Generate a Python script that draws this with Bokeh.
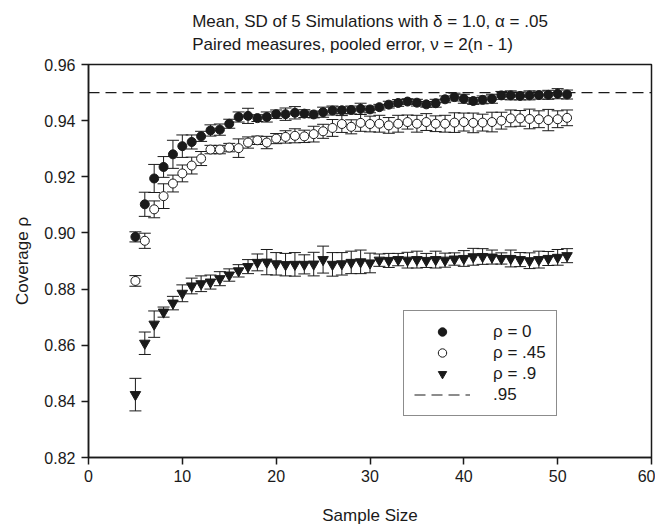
from bokeh.plotting import figure
from bokeh.models import (ColumnDataSource, Whisker, TeeHead, Title, Legend, LegendItem,
                          Range1d, FixedTicker, NumeralTickFormatter)
from bokeh.embed import file_html
from bokeh.resources import INLINE

# ---------------- data ----------------
sample_size = list(range(5, 52))

rho0_mean = [0.8986, 0.9102, 0.9194, 0.9235, 0.9280, 0.9309, 0.9324, 0.9344, 0.9365, 0.9368,
             0.9389, 0.9413, 0.9417, 0.9409, 0.9413, 0.9423, 0.9423, 0.9428, 0.9425, 0.9422,
             0.9430, 0.9436, 0.9437, 0.9438, 0.9442, 0.9440, 0.9448, 0.9457, 0.9463, 0.9468,
             0.9464, 0.9458, 0.9462, 0.9476, 0.9484, 0.9478, 0.9470, 0.9474, 0.9478, 0.9490,
             0.9490, 0.9488, 0.9490, 0.9491, 0.9492, 0.9496, 0.9493]
rho0_sd = [0.0018, 0.0043, 0.0050, 0.0037, 0.0050, 0.0040, 0.0025, 0.0018, 0.0020, 0.0020,
           0.0016, 0.0018, 0.0027, 0.0012, 0.0018, 0.0015, 0.0022, 0.0022, 0.0014, 0.0012,
           0.0018, 0.0016, 0.0012, 0.0014, 0.0020, 0.0012, 0.0010, 0.0012, 0.0012, 0.0010,
           0.0012, 0.0010, 0.0014, 0.0012, 0.0014, 0.0016, 0.0012, 0.0014, 0.0016, 0.0014,
           0.0016, 0.0014, 0.0016, 0.0014, 0.0016, 0.0018, 0.0016]

rho45_mean = [0.8829, 0.8972, 0.9084, 0.9131, 0.9176, 0.9212, 0.9240, 0.9265, 0.9297, 0.9297,
              0.9304, 0.9302, 0.9322, 0.9330, 0.9322, 0.9336, 0.9342, 0.9346, 0.9344, 0.9352,
              0.9362, 0.9374, 0.9388, 0.9378, 0.9392, 0.9388, 0.9389, 0.9383, 0.9389, 0.9395,
              0.9389, 0.9395, 0.9389, 0.9389, 0.9393, 0.9395, 0.9392, 0.9393, 0.9395, 0.9400,
              0.9408, 0.9408, 0.9406, 0.9405, 0.9402, 0.9405, 0.9410]
rho45_sd = [0.0019, 0.0027, 0.0030, 0.0044, 0.0030, 0.0030, 0.0030, 0.0025, 0.0015, 0.0015,
            0.0015, 0.0033, 0.0020, 0.0015, 0.0022, 0.0018, 0.0022, 0.0025, 0.0022, 0.0028,
            0.0025, 0.0030, 0.0030, 0.0025, 0.0030, 0.0028, 0.0030, 0.0028, 0.0030, 0.0025,
            0.0030, 0.0030, 0.0028, 0.0030, 0.0035, 0.0032, 0.0035, 0.0030, 0.0035, 0.0030,
            0.0030, 0.0028, 0.0035, 0.0030, 0.0038, 0.0030, 0.0028]

rho90_mean = [0.8424, 0.8607, 0.8675, 0.8718, 0.8750, 0.8785, 0.8811, 0.8819, 0.8825, 0.8837,
              0.8850, 0.8865, 0.8880, 0.8895, 0.8896, 0.8890, 0.8887, 0.8888, 0.8888, 0.8889,
              0.8905, 0.8888, 0.8890, 0.8895, 0.8897, 0.8893, 0.8903, 0.8902, 0.8905, 0.8903,
              0.8905, 0.8902, 0.8905, 0.8903, 0.8907, 0.8909, 0.8915, 0.8916, 0.8914, 0.8909,
              0.8909, 0.8905, 0.8901, 0.8905, 0.8909, 0.8913, 0.8919]
rho90_sd = [0.0058, 0.0040, 0.0047, 0.0018, 0.0024, 0.0030, 0.0028, 0.0028, 0.0025, 0.0025,
            0.0022, 0.0022, 0.0025, 0.0030, 0.0045, 0.0040, 0.0040, 0.0042, 0.0034, 0.0042,
            0.0048, 0.0042, 0.0040, 0.0040, 0.0042, 0.0035, 0.0022, 0.0025, 0.0022, 0.0028,
            0.0030, 0.0025, 0.0030, 0.0025, 0.0022, 0.0028, 0.0030, 0.0028, 0.0025, 0.0020,
            0.0030, 0.0025, 0.0028, 0.0030, 0.0025, 0.0028, 0.0025]

reference_level = 0.95

series_labels = ["ρ = 0", "ρ = .45", "ρ = .9"]
reference_label = ".95"

x_ticks = [0, 10, 20, 30, 40, 50, 60]
y_ticks = [0.82, 0.84, 0.86, 0.88, 0.90, 0.92, 0.94, 0.96]

title_line1 = "Mean, SD of 5 Simulations with δ = 1.0, α = .05"
title_line2 = "Paired measures, pooled error, ν = 2(n - 1)"
x_label = "Sample Size"
y_label = "Coverage ρ"

# ---------------- figure ----------------
FONT = "Liberation Sans"
INK = "#1a1a1a"

p = figure(width=655, height=527, output_backend="svg", toolbar_location=None,
           x_range=Range1d(x_ticks[0], x_ticks[-1]), y_range=Range1d(y_ticks[0], y_ticks[-1]),
           min_border_left=88, min_border_right=4, min_border_top=64, min_border_bottom=69)
p.background_fill_color = "white"
p.border_fill_color = "white"
p.xgrid.visible = False
p.ygrid.visible = False
p.outline_line_color = INK
p.outline_line_width = 1.5

for ax in (p.xaxis[0], p.yaxis[0]):
    ax.axis_line_color = INK
    ax.axis_line_width = 1.5
    ax.major_tick_line_color = INK
    ax.major_tick_line_width = 1.5
    ax.major_tick_out = 7
    ax.major_tick_in = 0
    ax.minor_tick_line_color = None
    ax.major_label_text_font = FONT
    ax.major_label_text_font_size = "16px"
    ax.major_label_text_color = INK
    ax.axis_label_text_font = FONT
    ax.axis_label_text_font_size = "17px"
    ax.axis_label_text_font_style = "normal"
    ax.axis_label_text_color = INK

p.xaxis[0].ticker = FixedTicker(ticks=x_ticks)
p.yaxis[0].ticker = FixedTicker(ticks=y_ticks)
p.yaxis[0].formatter = NumeralTickFormatter(format="0.00")
p.xaxis[0].axis_label = x_label
p.yaxis[0].axis_label = y_label
p.xaxis[0].major_label_standoff = 5
p.yaxis[0].major_label_standoff = 6
p.xaxis[0].axis_label_standoff = 21
p.yaxis[0].axis_label_standoff = 9


def make_source(means, sds):
    return ColumnDataSource(dict(
        x=sample_size, y=means,
        lo=[m - s for m, s in zip(means, sds)],
        hi=[m + s for m, s in zip(means, sds)],
    ))


src0 = make_source(rho0_mean, rho0_sd)
src45 = make_source(rho45_mean, rho45_sd)
src90 = make_source(rho90_mean, rho90_sd)

for src in (src90, src45, src0):
    w = Whisker(source=src, base="x", lower="lo", upper="hi",
                line_color=INK, line_width=1,
                lower_head=TeeHead(size=12, line_color=INK, line_width=1),
                upper_head=TeeHead(size=12, line_color=INK, line_width=1))
    p.add_layout(w)

r_ref = p.line(x=[x_ticks[0], x_ticks[-1]], y=[reference_level, reference_level],
               line_color=INK, line_width=1.2, line_dash="11 6")

r90 = p.scatter("x", "y", source=src90, marker="inverted_triangle", size=10.5,
                fill_color=INK, line_color=INK, line_width=1)
r45 = p.scatter("x", "y", source=src45, marker="circle", size=9,
                fill_color="white", line_color=INK, line_width=1)
r0 = p.scatter("x", "y", source=src0, marker="circle", size=9,
               fill_color=INK, line_color=INK, line_width=1)

legend = Legend(items=[
    LegendItem(label=series_labels[0], renderers=[r0]),
    LegendItem(label=series_labels[1], renderers=[r45]),
    LegendItem(label=series_labels[2], renderers=[r90]),
    LegendItem(label=reference_label, renderers=[r_ref]),
], location=(315, 41))
legend.padding = 10
legend.spacing = 0
legend.margin = 0
legend.glyph_width = 56
legend.glyph_height = 21
legend.label_height = 21
legend.label_standoff = 23
legend.label_text_font = FONT
legend.label_text_font_size = "17px"
legend.label_text_color = INK
legend.border_line_color = INK
legend.border_line_width = 1
legend.background_fill_color = "white"
legend.background_fill_alpha = 1
p.add_layout(legend)

# two-line title above the frame
p.add_layout(Title(text=title_line1 + "\n" + title_line2, align="center", text_font=FONT,
                   text_font_size="17px", text_font_style="normal", text_color=INK,
                   text_line_height=1.25, vertical_align="top", standoff=16), "above")

open("out.html", "w").write(file_html(p, INLINE))
